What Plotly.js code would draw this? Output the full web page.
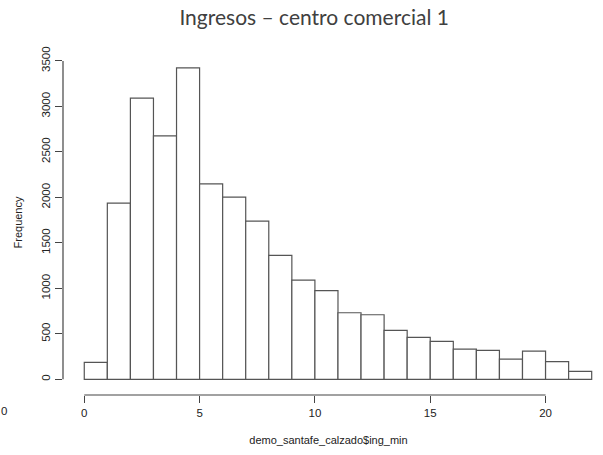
<!DOCTYPE html>
<html>
<head>
<meta charset="utf-8">
<script src="https://cdn.plot.ly/plotly-3.0.1.min.js"></script>
<style>html,body{margin:0;padding:0;background:#fff;}#chart{width:603px;height:455px;}</style>
</head>
<body>
<div id="chart"></div>
<script>
// Histogram bin edges (ing_min) and counts per bin
const breaks = [0,1,2,3,4,5,6,7,8,9,10,11,12,13,14,15,16,17,18,19,20,21,22];
const counts = [187,1937,3090,2676,3423,2149,2003,1739,1362,1091,975,732,710,538,461,417,333,318,223,311,194,88];
const xTicks = [0,5,10,15,20];
const yTicks = [0,500,1000,1500,2000,2500,3000,3500];

const centers = counts.map((c,i)=> (breaks[i]+breaks[i+1])/2);
const widths = counts.map((c,i)=> breaks[i+1]-breaks[i]);

const axisColor = '#444';
const txt = '#222';
const trace = {
  type:'bar', x:centers, y:counts, width:widths,
  marker:{color:'#ffffff', line:{color:'#555', width:1.2}},
  hoverinfo:'x+y'
};

const layout = {
  width:603, height:455,
  margin:{l:62.7, r:8.5, t:49.8, b:60},
  paper_bgcolor:'#fff', plot_bgcolor:'#fff',
  showlegend:false,
  bargap:0,
  font:{family:'Liberation Sans, Arial, sans-serif', size:11, color:txt},
  title:{text:'Ingresos – centro comercial 1', x:0.521, xanchor:'center', xref:'container',
         y:0.962, yanchor:'middle', yref:'container',
         font:{family:'Lato, Open Sans, sans-serif', size:21, color:'#404040'}},
  xaxis:{range:[-0.922,22.1], tickmode:'array', tickvals:xTicks, ticktext:xTicks.map(String),
         showgrid:false, zeroline:false, showline:false, ticks:'outside', ticklen:7, tickwidth:1,
         tickcolor:axisColor, tickfont:{size:11.5, color:txt},
         title:{text:'demo_santafe_calzado$ing_min', font:{size:11, color:txt}, standoff:18}},
  yaxis:{range:[-172,3620], tickmode:'array', tickvals:yTicks, ticktext:yTicks.map(String),
         showgrid:false, zeroline:false, showline:false, ticks:'outside', ticklen:7, tickwidth:1,
         tickcolor:axisColor, tickangle:-90, tickfont:{size:11.5, color:txt},
         title:{text:'Frequency', font:{size:11, color:txt}, standoff:15}},
  shapes:[
    {type:'line', xref:'x', yref:'paper', x0:xTicks[0], x1:xTicks[xTicks.length-1], y0:0, y1:0,
     line:{color:axisColor, width:1.2}},
    {type:'line', xref:'paper', yref:'y', x0:0, x1:0, y0:yTicks[0], y1:yTicks[yTicks.length-1],
     line:{color:axisColor, width:1.2}}
  ],
  annotations:[
    {text:'0', xref:'paper', yref:'paper', x:-0.112, y:-0.045, xanchor:'center', yanchor:'middle',
     showarrow:false, font:{size:11.5, color:txt}}
  ]
};

Plotly.newPlot('chart',[trace],layout,{displayModeBar:false, staticPlot:true});
</script>
</body>
</html>
